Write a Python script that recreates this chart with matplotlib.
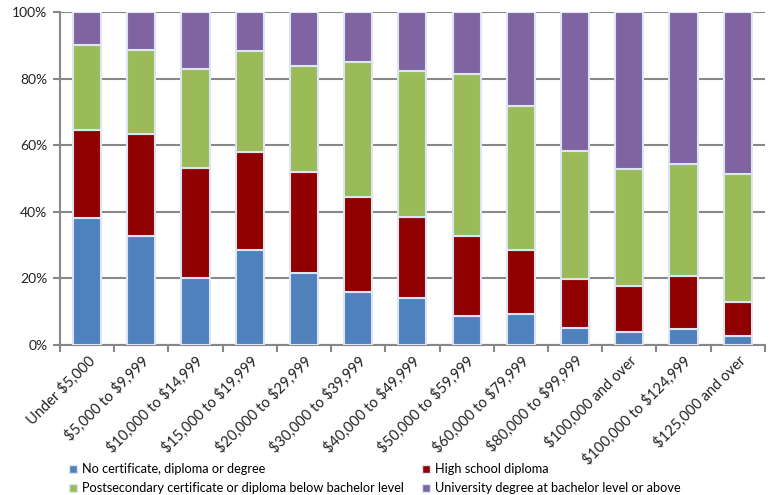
import numpy as np
import matplotlib.pyplot as plt
from matplotlib.patches import Patch

plt.rcParams['font.family'] = ['Lato', 'DejaVu Sans']
plt.rcParams['text.parse_math'] = False

# categorias de ingreso
categorias = ['Under $5,000', '$5,000 to $9,999', '$10,000 to $14,999', '$15,000 to $19,999',
              '$20,000 to $29,999', '$30,000 to $39,999', '$40,000 to $49,999',
              '$50,000 to $59,999', '$60,000 to $79,999', '$80,000 to $99,999',
              '$100,000 and over', '$100,000 to $124,999', '$125,000 and over']

# porcentajes por nivel de estudios
sin_certificado = [38.0, 32.8, 20.2, 28.6, 21.5, 15.8, 14.0, 8.8, 9.3, 5.1, 4.0, 4.8, 2.8]
secundaria = [26.6, 30.6, 32.9, 29.4, 30.5, 28.7, 24.5, 23.9, 19.2, 14.7, 13.7, 15.9, 10.1]
postsecundaria = [25.5, 25.2, 29.7, 30.4, 31.8, 40.4, 43.9, 48.7, 43.3, 38.5, 35.2, 33.5, 38.3]
universidad = [9.9, 11.4, 17.2, 11.6, 16.2, 15.1, 17.6, 18.6, 28.2, 41.7, 47.1, 45.8, 48.8]

series = [sin_certificado, secundaria, postsecundaria, universidad]
nombres = ['No certificate, diploma or degree', 'High school diploma',
           'Postsecondary certificate or diploma below bachelor level',
           'University degree at bachelor level or above']
colores = ['#4F81BD', '#900000', '#9BBB59', '#8064A2']

fig = plt.figure(figsize=(7.72, 4.95), dpi=100)
ax = fig.add_axes([0.0777, 0.303, 0.913, 0.673])

x = np.arange(len(categorias))
base = np.zeros(len(categorias))
for valores, nombre, color in zip(series, nombres, colores):
    ax.bar(x, valores, bottom=base, width=0.52, color=color, edgecolor='#DCE6F2',
           linewidth=1.5, label=nombre, zorder=3)
    base += np.array(valores)

ax.set_xlim(-0.5, len(categorias) - 0.5)
ax.set_ylim(0, 100)
ax.set_yticks(np.arange(0, 101, 20))
ax.set_yticklabels([f'{v}%' for v in range(0, 101, 20)], fontsize=10, color='#222222')
ax.yaxis.grid(True, color='#888888', linewidth=1.5, zorder=0)

ax.set_xticks(x)
ax.set_xticklabels(categorias, rotation=45, ha='right', rotation_mode='anchor',
                   fontsize=10.5, color='#222222')
ax.set_xticks(np.arange(-0.5, len(categorias), 1), minor=True)
ax.tick_params(axis='x', which='major', length=0, pad=6)
ax.tick_params(axis='x', which='minor', length=5, width=1.5, color='#888888', direction='out')
ax.tick_params(axis='y', length=5, width=1.5, color='#888888', pad=4)

for lado in ['top', 'right']:
    ax.spines[lado].set_visible(False)
for lado in ['left', 'bottom']:
    ax.spines[lado].set_color('#888888')
    ax.spines[lado].set_linewidth(1.5)

# orden por filas como en el original
orden = [0, 2, 1, 3]
handles = [Patch(facecolor=colores[i], edgecolor='#DCE6F2', label=nombres[i]) for i in orden]
fig.legend(handles=handles, loc='lower left', bbox_to_anchor=(0.075, -0.022), ncol=2,
           frameon=False, fontsize=9.2, handlelength=0.6, handleheight=0.6,
           handletextpad=0.4, columnspacing=1.4, labelspacing=0.55)

fig.savefig('out.png', dpi=100)
